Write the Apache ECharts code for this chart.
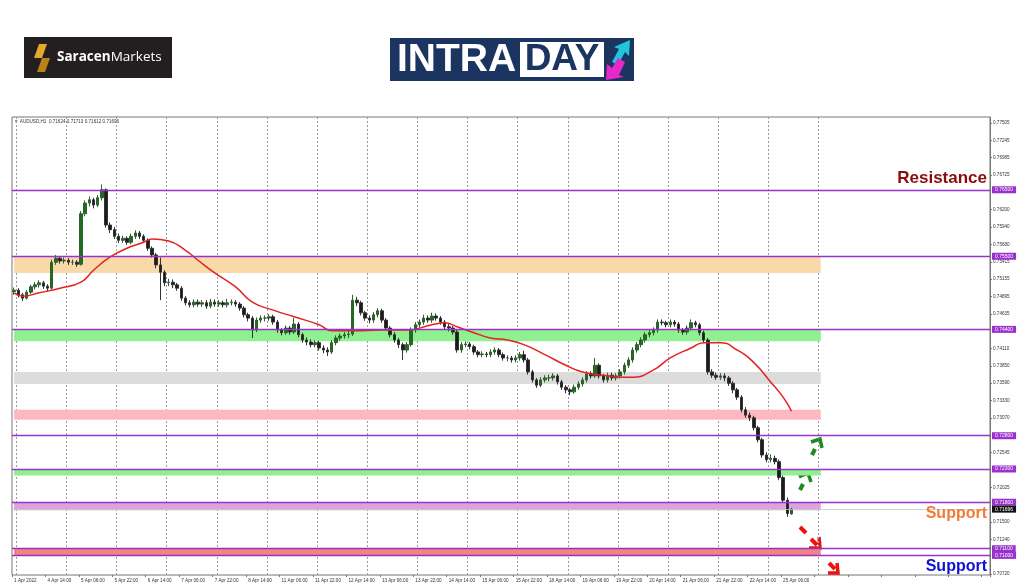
<!DOCTYPE html>
<html>
<head>
<meta charset="utf-8">
<script src="https://cdn.jsdelivr.net/npm/echarts@6/dist/echarts.min.js"></script>
<style>
  html, body { margin: 0; padding: 0; background: #fff; }
  #chart { width: 1024px; height: 587px; }
</style>
</head>
<body>
<div id="chart"></div>
<script>
// x labels, one every 8 slots (1 slot = 2 hours)
const xLabels = ['1 Apr 2022', '4 Apr 14:00', '5 Apr 06:00', '5 Apr 22:00', '6 Apr 14:00', '7 Apr 06:00',
  '7 Apr 22:00', '8 Apr 14:00', '11 Apr 06:00', '11 Apr 22:00', '12 Apr 14:00', '13 Apr 06:00',
  '13 Apr 22:00', '14 Apr 14:00', '15 Apr 06:00', '15 Apr 22:00', '18 Apr 14:00', '19 Apr 06:00',
  '19 Apr 22:00', '20 Apr 14:00', '21 Apr 06:00', '21 Apr 22:00', '22 Apr 14:00', '25 Apr 06:00'];
const slotCount = 234;

// price scale labels shown on the right
const yTicks = [0.77505, 0.77245, 0.76985, 0.76725, 0.76200, 0.75940, 0.75680, 0.75415, 0.75155,
  0.74895, 0.74635, 0.74110, 0.73850, 0.73590, 0.73330, 0.73070, 0.72545, 0.72025, 0.71500,
  0.71240, 0.70720];

// AUDUSD candles [open, close, low, high]
const ohlc = [
  [0.7497,0.7499,0.7492,0.7503],[0.7499,0.7492,0.7488,0.7502],[0.7492,0.7487,0.7483,0.7495],[0.7487,0.7496,0.7485,0.7499],
  [0.7496,0.7504,0.7493,0.7507],[0.7504,0.7507,0.7500,0.7511],[0.7507,0.7510,0.7503,0.7514],[0.7510,0.7505,0.7501,0.7513],
  [0.7505,0.7502,0.7497,0.7508],[0.7502,0.7541,0.7500,0.7545],[0.7541,0.7547,0.7537,0.7552],[0.7547,0.7543,0.7539,0.7550],
  [0.7543,0.7544,0.7539,0.7548],[0.7544,0.7541,0.7537,0.7547],[0.7541,0.7541,0.7537,0.7545],[0.7541,0.7538,0.7534,0.7544],
  [0.7538,0.7614,0.7536,0.7618],[0.7614,0.7630,0.7610,0.7634],[0.7630,0.7635,0.7625,0.7640],[0.7635,0.7627,0.7622,0.7638],
  [0.7627,0.7638,0.7624,0.7642],[0.7638,0.7650,0.7634,0.7658],[0.7650,0.7597,0.7593,0.7652],[0.7597,0.7590,0.7585,0.7601],
  [0.7590,0.7580,0.7576,0.7594],[0.7580,0.7574,0.7570,0.7584],[0.7574,0.7577,0.7570,0.7581],[0.7577,0.7571,0.7567,0.7580],
  [0.7571,0.7580,0.7568,0.7584],[0.7580,0.7585,0.7576,0.7589],[0.7585,0.7580,0.7576,0.7588],[0.7580,0.7574,0.7570,0.7583],
  [0.7574,0.7562,0.7558,0.7577],[0.7562,0.7552,0.7548,0.7565],[0.7552,0.7537,0.7532,0.7555],[0.7537,0.7526,0.7484,0.7548],
  [0.7526,0.7510,0.7505,0.7529],[0.7510,0.7511,0.7505,0.7516],[0.7511,0.7507,0.7502,0.7515],[0.7507,0.7502,0.7498,0.7510],
  [0.7502,0.7487,0.7483,0.7505],[0.7487,0.7480,0.7476,0.7490],[0.7480,0.7477,0.7473,0.7484],[0.7477,0.7481,0.7473,0.7485],
  [0.7481,0.7478,0.7474,0.7485],[0.7478,0.7480,0.7474,0.7484],[0.7480,0.7475,0.7471,0.7484],[0.7475,0.7481,0.7472,0.7486],
  [0.7481,0.7478,0.7474,0.7485],[0.7478,0.7480,0.7474,0.7484],[0.7480,0.7477,0.7473,0.7483],[0.7477,0.7480,0.7473,0.7486],
  [0.7480,0.7481,0.7476,0.7485],[0.7481,0.7478,0.7474,0.7484],[0.7478,0.7472,0.7468,0.7481],[0.7472,0.7462,0.7458,0.7475],
  [0.7462,0.7457,0.7452,0.7465],[0.7457,0.7439,0.7427,0.7460],[0.7439,0.7454,0.7436,0.7458],[0.7454,0.7457,0.7450,0.7461],
  [0.7457,0.7457,0.7452,0.7461],[0.7457,0.7459,0.7453,0.7463],[0.7459,0.7451,0.7447,0.7462],[0.7451,0.7439,0.7435,0.7454],
  [0.7439,0.7435,0.7431,0.7442],[0.7435,0.7442,0.7432,0.7446],[0.7442,0.7436,0.7432,0.7445],[0.7436,0.7448,0.7433,0.7457],
  [0.7448,0.7432,0.7428,0.7451],[0.7432,0.7424,0.7420,0.7435],[0.7424,0.7421,0.7416,0.7428],[0.7421,0.7417,0.7413,0.7425],
  [0.7417,0.7420,0.7413,0.7424],[0.7420,0.7412,0.7408,0.7423],[0.7412,0.7409,0.7404,0.7416],[0.7409,0.7406,0.7400,0.7413],
  [0.7406,0.7420,0.7403,0.7424],[0.7420,0.7427,0.7416,0.7431],[0.7427,0.7430,0.7423,0.7434],[0.7430,0.7432,0.7426,0.7436],
  [0.7432,0.7433,0.7427,0.7438],[0.7433,0.7484,0.7430,0.7492],[0.7484,0.7480,0.7475,0.7489],[0.7480,0.7465,0.7461,0.7483],
  [0.7465,0.7457,0.7453,0.7468],[0.7457,0.7454,0.7449,0.7461],[0.7454,0.7462,0.7450,0.7466],[0.7462,0.7468,0.7458,0.7472],
  [0.7468,0.7454,0.7450,0.7471],[0.7454,0.7442,0.7438,0.7457],[0.7442,0.7432,0.7428,0.7445],[0.7432,0.7424,0.7420,0.7436],
  [0.7424,0.7417,0.7412,0.7427],[0.7417,0.7409,0.7394,0.7420],[0.7409,0.7417,0.7405,0.7421],[0.7417,0.7439,0.7414,0.7443],
  [0.7439,0.7447,0.7435,0.7451],[0.7447,0.7451,0.7443,0.7455],[0.7451,0.7457,0.7447,0.7462],[0.7457,0.7454,0.7450,0.7461],
  [0.7454,0.7460,0.7450,0.7465],[0.7460,0.7457,0.7453,0.7464],[0.7457,0.7451,0.7447,0.7460],[0.7451,0.7444,0.7440,0.7454],
  [0.7444,0.7442,0.7437,0.7448],[0.7442,0.7436,0.7432,0.7445],[0.7436,0.7409,0.7405,0.7439],[0.7409,0.7417,0.7405,0.7421],
  [0.7417,0.7418,0.7413,0.7422],[0.7418,0.7414,0.7410,0.7421],[0.7414,0.7406,0.7402,0.7417],[0.7406,0.7402,0.7398,0.7409],
  [0.7402,0.7403,0.7398,0.7407],[0.7403,0.7402,0.7398,0.7406],[0.7402,0.7406,0.7398,0.7410],[0.7406,0.7409,0.7402,0.7413],
  [0.7409,0.7402,0.7398,0.7412],[0.7402,0.7397,0.7393,0.7405],[0.7397,0.7397,0.7392,0.7401],[0.7397,0.7394,0.7390,0.7400],
  [0.7394,0.7397,0.7390,0.7401],[0.7397,0.7402,0.7393,0.7406],[0.7402,0.7394,0.7390,0.7408],[0.7394,0.7376,0.7372,0.7397],
  [0.7376,0.7364,0.7360,0.7379],[0.7364,0.7356,0.7352,0.7367],[0.7356,0.7364,0.7353,0.7368],[0.7364,0.7367,0.7360,0.7371],
  [0.7367,0.7367,0.7362,0.7372],[0.7367,0.7370,0.7363,0.7374],[0.7370,0.7361,0.7357,0.7373],[0.7361,0.7353,0.7349,0.7364],
  [0.7353,0.7349,0.7344,0.7356],[0.7349,0.7346,0.7341,0.7352],[0.7346,0.7353,0.7343,0.7357],[0.7353,0.7358,0.7349,0.7362],
  [0.7358,0.7364,0.7354,0.7368],[0.7364,0.7373,0.7360,0.7377],[0.7373,0.7370,0.7366,0.7377],[0.7370,0.7386,0.7367,0.7397],
  [0.7386,0.7370,0.7366,0.7389],[0.7370,0.7364,0.7360,0.7373],[0.7364,0.7371,0.7360,0.7375],[0.7371,0.7367,0.7363,0.7375],
  [0.7367,0.7370,0.7363,0.7374],[0.7370,0.7376,0.7366,0.7380],[0.7376,0.7386,0.7372,0.7390],[0.7386,0.7394,0.7382,0.7398],
  [0.7394,0.7409,0.7390,0.7413],[0.7409,0.7417,0.7405,0.7421],[0.7417,0.7424,0.7413,0.7428],[0.7424,0.7432,0.7420,0.7436],
  [0.7432,0.7435,0.7428,0.7439],[0.7435,0.7439,0.7431,0.7443],[0.7439,0.7451,0.7435,0.7455],[0.7451,0.7450,0.7446,0.7455],
  [0.7450,0.7447,0.7443,0.7453],[0.7447,0.7451,0.7443,0.7455],[0.7451,0.7448,0.7444,0.7454],[0.7448,0.7439,0.7435,0.7451],
  [0.7439,0.7436,0.7432,0.7442],[0.7436,0.7442,0.7432,0.7446],[0.7442,0.7450,0.7438,0.7455],[0.7450,0.7447,0.7443,0.7453],
  [0.7447,0.7435,0.7431,0.7450],[0.7435,0.7424,0.7420,0.7438],[0.7424,0.7376,0.7372,0.7427],[0.7376,0.7371,0.7367,0.7380],
  [0.7371,0.7368,0.7364,0.7375],[0.7368,0.7370,0.7364,0.7374],[0.7370,0.7367,0.7362,0.7374],[0.7367,0.7359,0.7355,0.7370],
  [0.7359,0.7349,0.7344,0.7362],[0.7349,0.7338,0.7334,0.7352],[0.7338,0.7319,0.7315,0.7341],[0.7319,0.7311,0.7307,0.7323],
  [0.7311,0.7307,0.7302,0.7315],[0.7307,0.7292,0.7288,0.7310],[0.7292,0.7274,0.7270,0.7295],[0.7274,0.7251,0.7247,0.7277],
  [0.7251,0.7244,0.7240,0.7255],[0.7244,0.7246,0.7240,0.7252],[0.7246,0.7241,0.7237,0.7250],[0.7241,0.7217,0.7213,0.7244],
  [0.7217,0.7183,0.7179,0.7220],[0.7183,0.7163,0.7158,0.7187],[0.71624,0.71696,0.71612,0.71713]
];

// moving average: [slot, value]
const maPoints = [
  [0,0.7495],[2,0.7490],[6,0.7495],[11,0.7502],[16,0.7511],[19,0.7529],[23,0.7549],[27,0.7562],
  [31,0.7571],[33,0.7576],[37,0.7573],[41,0.7559],[44,0.7544],[48,0.7525],[53,0.7504],[57,0.7481],
  [62,0.7469],[67,0.7459],[73,0.7447],[76,0.7438],[81,0.7438],[88,0.7439],[94,0.7439],[100,0.7447],
  [103,0.7450],[106,0.7444],[110,0.7435],[114,0.7427],[118,0.7424],[122,0.7417],[127,0.7402],[132,0.7386],
  [136,0.7376],[141,0.7371],[146,0.7368],[148,0.7368],[153,0.7379],[157,0.7397],[162,0.7412],[165,0.7420],
  [169,0.7420],[173,0.7409],[177,0.7390],[181,0.7361],[184,0.7338],[186,0.7317]
];

// horizontal levels and zones
const levels = [0.7650, 0.7550, 0.7440, 0.7280, 0.7230, 0.7180, 0.7110, 0.7100];
const lastPrice = 0.71696;
const zoneTop = [0.7550, 0.7440, 0.7376, 0.7319, 0.7230, 0.7180, 0.7110];
const zoneBottom = [0.7525, 0.7422, 0.7358, 0.7304, 0.7220, 0.7168, 0.7100];
const zoneColors = ['#f7d9aa', '#8ff08f', '#dcdcdc', '#ffb8c2', '#8ff08f', '#dda3dd', '#f2867e'];
const zoneEnd = 193;

const categories = [];
for (let i = 0; i < slotCount; i++) categories.push(String(i));

const tiny = 'Liberation Sans, Arial, sans-serif';
const purple = '#9932cc';
const levelMarks = levels.map(v => ({
  yAxis: v,
  lineStyle: { color: purple, width: 1.3, type: 'solid' },
  label: {
    show: true, position: 'end', distance: 2, formatter: v.toFixed(5),
    backgroundColor: purple, color: '#fff', fontSize: 5, padding: [1, 3], fontFamily: tiny
  }
}));
levelMarks.push({
  yAxis: lastPrice,
  lineStyle: { color: '#c8c8c8', width: 0.8, type: 'solid' },
  label: {
    show: true, position: 'end', distance: 2, formatter: lastPrice.toFixed(5),
    backgroundColor: '#111', color: '#fff', fontSize: 5, padding: [1, 3], fontFamily: tiny
  }
});
// text notes sitting on the level lines
const noteMark = (v, text, color, pos, size) => ({
  yAxis: v,
  lineStyle: { color: 'rgba(0,0,0,0)', width: 0 },
  label: {
    show: true, position: pos, distance: 3, formatter: text, color: color,
    fontSize: size, fontWeight: 'bold', fontFamily: 'Liberation Sans, Arial, sans-serif'
  }
});
levelMarks.push(noteMark(0.7650, 'Resistance', '#8c0c0c', 'insideEndTop', 17));
levelMarks.push(noteMark(0.7180, 'Support', '#f47a36', 'insideEndBottom', 16));
levelMarks.push(noteMark(0.7100, 'Support', '#0b12d6', 'insideEndBottom', 16));

const zones = zoneTop.map((t, i) => [
  { xAxis: '0', yAxis: t, itemStyle: { color: zoneColors[i] } },
  { xAxis: String(zoneEnd), yAxis: zoneBottom[i] }
]);

const chart = echarts.init(document.getElementById('chart'));

const arrow = (pts, color) => ({
  type: 'polyline', shape: { points: pts },
  style: { stroke: color, lineWidth: 3.5, fill: null, lineJoin: 'miter' }
});
const dash = (x1, y1, x2, y2, color) => ({
  type: 'line', shape: { x1: x1, y1: y1, x2: x2, y2: y2 },
  style: { stroke: color, lineWidth: 4 }
});

const option = {
  animation: false,
  backgroundColor: '#fff',
  grid: { left: 12, right: 34, top: 117, bottom: 12, show: true, borderColor: '#777', borderWidth: 1 },
  xAxis: {
    type: 'category',
    data: categories,
    boundaryGap: true,
    axisLine: { show: false },
    axisTick: { show: true, interval: 7, length: 2, lineStyle: { color: '#777' } },
    axisLabel: {
      interval: 7, fontSize: 4.6, color: '#333', margin: 3, align: 'left',
      fontFamily: tiny,
      formatter: (v, i) => xLabels[i / 8] || ''
    },
    splitLine: {
      show: true,
      interval: (i) => i % 12 === 1 && i <= zoneEnd,
      lineStyle: { color: '#9a9a9a', type: [2, 2], width: 1 }
    }
  },
  yAxis: {
    type: 'value',
    position: 'right',
    min: 0.70705,
    max: 0.77595,
    splitLine: { show: false },
    axisLine: { show: true, lineStyle: { color: '#777' } },
    axisTick: { show: true, length: 2, customValues: yTicks, lineStyle: { color: '#777' } },
    axisLabel: {
      customValues: yTicks, fontSize: 4.6, color: '#333', margin: 3,
      fontFamily: tiny,
      formatter: v => v.toFixed(5)
    }
  },
  series: [
    {
      type: 'candlestick',
      data: ohlc,
      barWidth: 3,
      itemStyle: {
        color: '#1e6e1e', color0: '#1c1c1c',
        borderColor: '#2f5f2f', borderColor0: '#333', borderWidth: 1
      },
      markArea: { silent: true, data: zones },
      markLine: { silent: true, symbol: 'none', precision: 5, data: levelMarks }
    },
    {
      type: 'line',
      data: maPoints,
      smooth: true,
      showSymbol: false,
      lineStyle: { color: '#e32222', width: 1.5 },
      z: 3
    }
  ],
  graphic: [
    // chart caption
    { type: 'text', left: 14, top: 119, style: { text: '\u25BC AUDUSD,H1  0.71624 0.71713 0.71612 0.71696', fontSize: 4.6, fill: '#333', fontFamily: tiny } },
    // Saracen Markets logo
    { type: 'rect', shape: { x: 24, y: 37, width: 148, height: 41 }, style: { fill: '#231f20' } },
    { type: 'polygon', shape: { points: [[39, 44], [47, 44], [42, 58], [34, 58]] }, style: { fill: '#e2a92b' } },
    { type: 'polygon', shape: { points: [[42, 58], [50, 58], [45, 72], [37, 72]] }, style: { fill: '#b98218' } },
    { type: 'text', x: 57, y: 57, style: {
        text: '{b|Saracen}{n|Markets}', verticalAlign: 'middle',
        rich: {
          b: { fontSize: 13.5, fontWeight: 'bold', fill: '#fff', fontFamily: 'Open Sans, sans-serif' },
          n: { fontSize: 13.5, fill: '#fff', fontFamily: 'Open Sans, sans-serif' }
        } } },
    // INTRADAY logo
    { type: 'rect', shape: { x: 390, y: 38, width: 244, height: 43 }, style: { fill: '#1b3560' } },
    { type: 'text', x: 397, y: 60, style: { text: 'INTRA', fontSize: 39, fontWeight: 'bold', fill: '#fff', verticalAlign: 'middle', fontFamily: 'Liberation Sans, Arial, sans-serif' } },
    { type: 'rect', shape: { x: 520, y: 42, width: 84, height: 35 }, style: { fill: '#fff' } },
    { type: 'text', x: 562, y: 60, style: { text: 'DAY', fontSize: 37, fontWeight: 'bold', fill: '#1b3560', align: 'center', verticalAlign: 'middle', fontFamily: 'Liberation Sans, Arial, sans-serif' } },
    { type: 'polygon', shape: { points: [[612, 62], [619, 49], [614, 47], [630, 40], [629, 56], [625, 52], [618, 65]] }, style: { fill: '#22c4dc' } },
    { type: 'polygon', shape: { points: [[618, 58], [625, 62], [619, 75], [624, 77], [606, 80], [607, 64], [612, 68]] }, style: { fill: '#e628c8' } },
    // green arrows (up)
    dash(812, 455, 815, 449, '#1f8a1f'),
    arrow([[811, 442], [820, 439], [822, 448]], '#1f8a1f'),
    dash(800, 490, 803, 484, '#1f8a1f'),
    arrow([[799, 477], [808, 473], [811, 482]], '#1f8a1f'),
    // red arrows (down)
    dash(800, 527, 806, 533, '#ee1111'),
    dash(811, 539, 817, 545, '#ee1111'),
    arrow([[809, 548], [820, 548], [819, 537]], '#ee1111'),
    dash(829, 563, 835, 569, '#ee1111'),
    arrow([[828, 573], [838, 573], [837, 563]], '#ee1111')
  ]
};

chart.setOption(option);
</script>
</body>
</html>
